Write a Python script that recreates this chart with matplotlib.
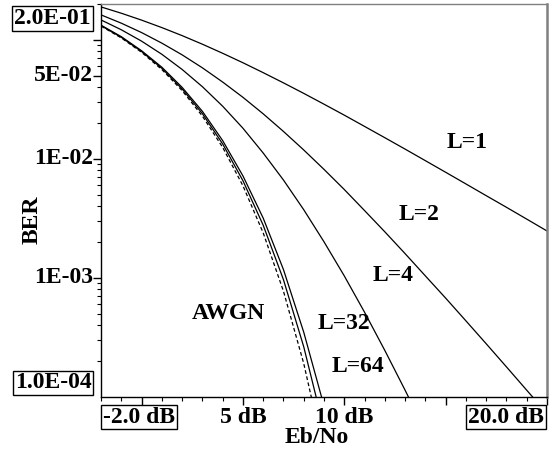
import matplotlib
matplotlib.use("Agg")
import matplotlib.pyplot as plt
from matplotlib.ticker import FixedLocator, NullFormatter

# Eb/No grid (dB) and BER values
ebno_long = list(range(-2, 21))
ebno_L4 = list(range(-2, 15))
ebno_short = list(range(-2, 10))

ber_L1 = [0.189, 0.1673, 0.1464, 0.1267, 0.1085, 0.0919, 0.0771, 0.0642, 0.0530,
          0.0435, 0.0355, 0.0288, 0.0233, 0.01874, 0.01506, 0.01208, 0.00966,
          0.00772, 0.00616, 0.00491, 0.00392, 0.00312, 0.00248]
ber_L2 = [0.162, 0.138, 0.1151, 0.0938, 0.0748, 0.0582, 0.0442, 0.0329, 0.0239,
          0.0170, 0.01188, 0.00816, 0.00553, 0.00368, 0.00244, 0.00160, 0.00104,
          6.77e-4, 4.36e-4, 2.80e-4, 1.79e-4, 1.14e-4, 7.26e-5]
ber_L4 = [0.1469, 0.1215, 0.0975, 0.0756, 0.0564, 0.0404, 0.0277, 0.0181, 0.0112,
          6.64e-3, 3.74e-3, 2.01e-3, 1.04e-3, 5.15e-4, 2.46e-4, 1.14e-4, 5.16e-5]
ber_L32 = [0.1327, 0.1063, 0.0810, 0.0589, 0.0399, 0.0251, 0.01425, 0.0072,
           0.00318, 1.175e-3, 3.5e-4, 8.4e-5]
ber_L64 = [0.1316, 0.1050, 0.0798, 0.0576, 0.0387, 0.0240, 0.01335, 0.00656,
           0.00277, 9.66e-4, 2.64e-4, 5.4e-5]
ber_awgn = [0.1306, 0.1038, 0.0786, 0.0563, 0.0375, 0.0229, 0.0125, 0.00595,
            0.00239, 7.73e-4, 1.91e-4, 3.36e-5]

curve_labels = ["L=1", "L=2", "L=4", "L=32", "L=64", "AWGN"]

plt.rcParams['font.family'] = ['Liberation Serif', 'DejaVu Serif']
plt.rcParams['font.weight'] = 'bold'
fs = 17

fig = plt.figure(figsize=(5.6, 4.59), dpi=100)
ax = fig.add_axes([0.1804, 0.1351, 0.7964, 0.8562])

lw = 0.9
ax.plot(ebno_long, ber_L1, color='black', lw=lw)
ax.plot(ebno_long, ber_L2, color='black', lw=lw)
ax.plot(ebno_L4, ber_L4, color='black', lw=lw)
ax.plot(ebno_short, ber_L32, color='black', lw=lw)
ax.plot(ebno_short, ber_L64, color='black', lw=lw)
ax.plot(ebno_short, ber_awgn, color='black', lw=lw, dashes=(3, 2))

ax.set_yscale('log')
ax.set_xlim(-2, 20)
ax.set_ylim(1e-4, 0.2)

# ticks
ax.xaxis.set_major_locator(FixedLocator([0, 5, 10, 15, 20]))
ax.xaxis.set_minor_locator(FixedLocator(list(range(-2, 21))))
minor_y = [m * 10.0 ** e for e in (-4, -3, -2, -1) for m in range(2, 10)]
ax.yaxis.set_major_locator(FixedLocator([1e-1, 5e-2, 1e-2, 1e-3]))
ax.yaxis.set_minor_locator(FixedLocator(minor_y))
ax.xaxis.set_major_formatter(NullFormatter())
ax.xaxis.set_minor_formatter(NullFormatter())
ax.yaxis.set_major_formatter(NullFormatter())
ax.yaxis.set_minor_formatter(NullFormatter())
ax.tick_params(axis='both', which='major', direction='out', length=6, width=1,
               top=False, right=False)
ax.tick_params(axis='both', which='minor', direction='out', length=3, width=0.8,
               top=False, right=False)

for s in ['left', 'bottom']:
    ax.spines[s].set_color('black')
    ax.spines[s].set_linewidth(1)
ax.spines['top'].set_color('#808080')
ax.spines['top'].set_linewidth(1)
ax.spines['right'].set_color('#808080')
ax.spines['right'].set_linewidth(1.8)

box = dict(boxstyle='square,pad=0.08', facecolor='white', edgecolor='black', lw=1)
tr_y = ax.get_yaxis_transform()
tr_x = ax.get_xaxis_transform()

# y tick labels
ax.text(-0.1087, 0.963, "2.0E-01", transform=ax.transAxes, ha='center', va='center',
        fontsize=fs, bbox=box)
ax.text(-0.1076, 0.0356, "1.0E-04", transform=ax.transAxes, ha='center', va='center',
        fontsize=fs, bbox=box)
for v, t in [(5e-2, "5E-02"), (1e-2, "1E-02"), (1e-3, "1E-03")]:
    ax.text(-0.018, v, t, transform=tr_y, ha='right', va='center', fontsize=fs)

# x tick labels
ax.text(0.085, -0.051, "-2.0 dB", transform=ax.transAxes, ha='center', va='center',
        fontsize=fs, bbox=box)
ax.text(0.908, -0.051, "20.0 dB", transform=ax.transAxes, ha='center', va='center',
        fontsize=fs, bbox=box)
for v, t in [(5, "5 dB"), (10, "10 dB")]:
    ax.text(v, -0.051, t, transform=tr_x, ha='center', va='center', fontsize=fs)

ax.text(0.484, -0.104, "Eb/No", transform=ax.transAxes, ha='center', va='center',
        fontsize=fs)
ax.text(-0.155, 0.45, "BER", transform=ax.transAxes, ha='center', va='center',
        fontsize=fs, rotation=90)

# curve labels
label_pos = [(16.04, 1.377e-2), (13.7, 3.41e-3), (12.4, 1.045e-3),
             (10.0, 4.12e-4), (10.7, 1.82e-4), (4.27, 5.0e-4)]
for (x, y), t in zip(label_pos, curve_labels):
    ax.text(x, y, t, ha='center', va='center', fontsize=fs)

plt.savefig("out.png", dpi=100)
